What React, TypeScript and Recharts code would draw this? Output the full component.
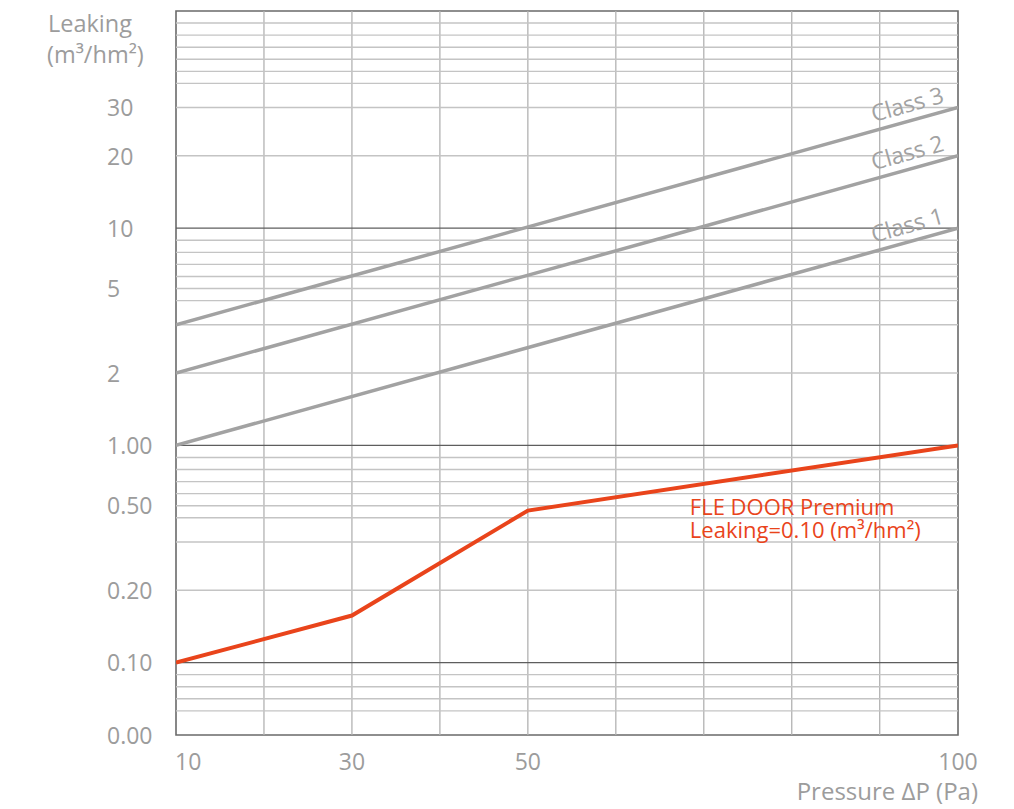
import React from "react";
import {
  LineChart,
  Line,
  XAxis,
  YAxis,
  ReferenceLine,
  ReferenceArea,
  LabelList,
} from "recharts";

// pressure (Pa) and leaking (m³/hm²)
const PRESSURE_FLE = [10, 30, 50, 100];
const LEAK_FLE = [0.1, 0.165, 0.46, 1.0];

const PRESSURE_CLASS = [10, 100];
const LEAK_CLASS_1 = [1, 10];
const LEAK_CLASS_2 = [2, 20];
const LEAK_CLASS_3 = [3, 30];

const X_TICKS = [10, 30, 50, 100];
const Y_TICKS = [0.04, 0.1, 0.2, 0.5, 1, 2, 5, 10, 20, 30];
const Y_TICK_LABELS = ["0.00", "0.10", "0.20", "0.50", "1.00", "2", "5", "10", "20", "30"];

const X_GRID = [20, 30, 40, 50, 60, 70, 80, 90];
const Y_GRID_MAJOR = [0.1, 1, 10];
const Y_GRID_MINOR = [
  0.06, 0.07, 0.08, 0.09,
  0.2, 0.3, 0.4, 0.5, 0.6, 0.7, 0.8, 0.9,
  2, 3, 4, 5, 6, 7, 8, 9,
  20, 30, 40, 50, 60, 70, 80, 90,
];

const FONT = "'Open Sans', 'Noto Sans', sans-serif";
const GREY = "#9c9c9c";
const CLASS_GREY = "#a2a2a2";
const RED = "#e9441b";

// the sheet's y axis is a hand-drawn log: steps 1..10 of a decade sit at
// these offsets (decade = 18 units)
const DECADE_STEPS: [number, number][] = [
  [1, 0], [2, 6], [3, 10], [4, 12], [5, 13], [6, 14], [7, 15], [8, 16], [9, 17], [10, 18],
];
const Y_KNOTS: [number, number][] = [0.01, 0.1, 1, 10].flatMap((base, i) =>
  DECADE_STEPS.map(([m, u]) => [base * m, (i - 1) * 18 + u] as [number, number]),
);
// x grid is even up to 90, the last column is a bit narrower
const X_KNOTS: [number, number][] = [[10, 0], [90, 80], [100, 88.9]];

function knotScale(knots: [number, number][], dom: number[] = [0, 1], rng: number[] = [0, 1]): any {
  const unit = (v: number) => {
    let i = 0;
    while (i < knots.length - 2 && v > knots[i + 1][0]) i++;
    const [a, ua] = knots[i];
    const [b, ub] = knots[i + 1];
    if (b === a) return ua;
    return ua + ((v - a) / (b - a)) * (ub - ua);
  };
  const scale: any = (value: any) => {
    const v = Number(value);
    if (!Number.isFinite(v)) return undefined;
    const u0 = unit(dom[0]);
    const u1 = unit(dom[dom.length - 1]);
    return rng[0] + ((unit(v) - u0) / (u1 - u0)) * (rng[rng.length - 1] - rng[0]);
  };
  scale.domain = (d?: any[]) => {
    if (d === undefined) return dom;
    dom = d.map(Number);
    return scale;
  };
  scale.range = (r?: any[]) => {
    if (r === undefined) return rng;
    rng = r.map(Number);
    return scale;
  };
  scale.copy = () => knotScale(knots, dom.slice(), rng.slice());
  scale.ticks = () =>
    knots.map((k) => k[0]).filter((v) => v >= Math.min(...dom) && v <= Math.max(...dom));
  scale.tickFormat = () => (v: any) => String(v);
  return scale;
}

const fleRows = PRESSURE_FLE.map((p, i) => ({ p, v: LEAK_FLE[i] }));
const classRows = (vals: number[]) => PRESSURE_CLASS.map((p, i) => ({ p, v: vals[i] }));

const CLASSES = [
  { name: "Class 1", rows: classRows(LEAK_CLASS_1) },
  { name: "Class 2", rows: classRows(LEAK_CLASS_2) },
  { name: "Class 3", rows: classRows(LEAK_CLASS_3) },
];

const YTick = ({ x, y, payload }: any) => (
  <text x={x - 69} y={y} dy="0.38em" textAnchor="start" fill={GREY} fontSize={23} fontFamily={FONT}>
    {Y_TICK_LABELS[Y_TICKS.indexOf(payload.value)]}
  </text>
);

const XTick = ({ x, y, payload }: any) => {
  const first = payload.value === X_TICKS[0];
  return (
    <text
      x={first ? x - 1 : x}
      y={y + 35}
      textAnchor={first ? "start" : "middle"}
      fill={GREY}
      fontSize={23}
      fontFamily={FONT}
    >
      {payload.value}
    </text>
  );
};

const YTitle = ({ viewBox }: any) => (
  <text fill={GREY} fontSize={23.5} fontFamily={FONT}>
    <tspan x={viewBox.x + 48} y={viewBox.y + 21}>Leaking</tspan>
    <tspan x={viewBox.x + 47} y={viewBox.y + 52}>(m³/hm²)</tspan>
  </text>
);

const XTitle = ({ viewBox }: any) => (
  <text
    x={viewBox.x + viewBox.width + 20}
    y={viewBox.y + 65}
    textAnchor="end"
    fill={GREY}
    fontSize={24}
    fontFamily={FONT}
  >
    Pressure ΔP (Pa)
  </text>
);

const classLabel = (name: string) => (p: any) => {
  if (p.index !== PRESSURE_CLASS.length - 1) return null;
  const cx = Number(p.x) - 51;
  const cy = Number(p.y) - 4;
  return (
    <text
      x={cx}
      y={cy}
      textAnchor="middle"
      dominantBaseline="central"
      transform={`rotate(-15.5 ${cx} ${cy})`}
      fill={CLASS_GREY}
      fontSize={23}
      fontFamily={FONT}
    >
      {name}
    </text>
  );
};

const fleLabel = (p: any) => {
  if (p.index !== 2) return null;
  const x = Number(p.x) + 162;
  const y = Number(p.y);
  return (
    <text fill={RED} fontSize={22} fontFamily={FONT}>
      <tspan x={x} y={y + 4}>FLE DOOR Premium</tspan>
      <tspan x={x} y={y + 27}>Leaking=0.10 (m³/hm²)</tspan>
    </text>
  );
};

export default function App() {
  return (
    <div style={{ position: "absolute", left: 0, top: 0, width: 1014, height: 809, background: "#fff" }}>
      <LineChart width={1014} height={809} margin={{ top: 11, right: 56, bottom: 0, left: 0 }}>
        <XAxis
          type="number"
          dataKey="p"
          domain={[10, 100]}
          scale={knotScale(X_KNOTS)}
          ticks={X_TICKS}
          interval={0}
          allowDataOverflow
          height={74}
          axisLine={false}
          tickLine={false}
          tickSize={0}
          tickMargin={0}
          tick={<XTick />}
          label={<XTitle />}
        />
        <YAxis
          type="number"
          dataKey="v"
          domain={[0.04, 100]}
          scale={knotScale(Y_KNOTS)}
          ticks={Y_TICKS}
          interval={0}
          allowDataOverflow
          width={176}
          axisLine={false}
          tickLine={false}
          tickSize={0}
          tickMargin={0}
          tick={<YTick />}
          label={<YTitle />}
        />

        {X_GRID.map((x) => (
          <ReferenceLine key={`vx${x}`} x={x} stroke="#b2b2b2" strokeWidth={1.3} />
        ))}
        {Y_GRID_MINOR.map((y) => (
          <ReferenceLine key={`hy${y}`} y={y} stroke="#c4c4c4" strokeWidth={1.4} />
        ))}
        {Y_GRID_MAJOR.map((y) => (
          <ReferenceLine key={`my${y}`} y={y} stroke="#5e5e5e" strokeWidth={1.3} />
        ))}
        <ReferenceArea
          x1={10}
          x2={100}
          y1={0.04}
          y2={100}
          fill="none"
          fillOpacity={0}
          stroke="#6a6a6a"
          strokeWidth={1.6}
          ifOverflow="visible"
        />

        {CLASSES.map((c) => (
          <Line
            key={c.name}
            data={c.rows}
            dataKey="v"
            type="linear"
            stroke={CLASS_GREY}
            strokeWidth={3.5}
            dot={false}
            isAnimationActive={false}
          >
            <LabelList dataKey="v" content={classLabel(c.name)} />
          </Line>
        ))}

        <Line
          data={fleRows}
          dataKey="v"
          type="linear"
          stroke={RED}
          strokeWidth={4}
          dot={false}
          isAnimationActive={false}
        >
          <LabelList dataKey="v" content={fleLabel} />
        </Line>
      </LineChart>
    </div>
  );
}
